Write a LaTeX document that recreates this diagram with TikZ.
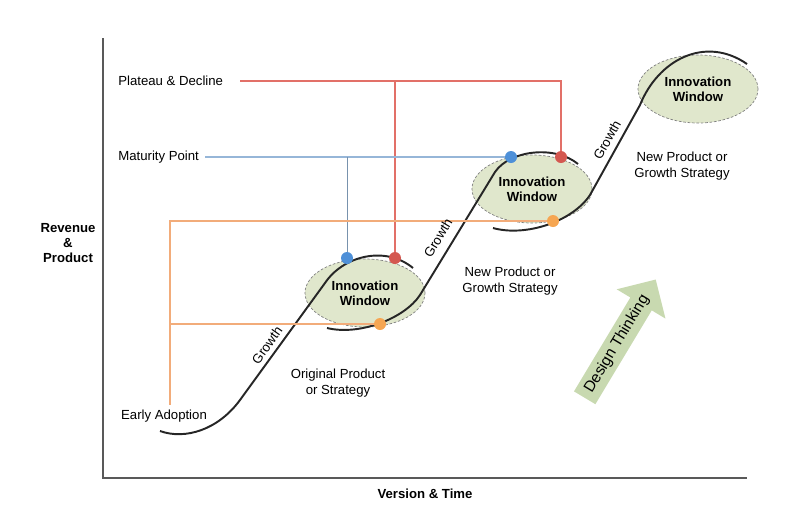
\documentclass[tikz,border=0pt]{standalone}
\usepackage{fontspec}
\setmainfont{Liberation Sans}
\usetikzlibrary{shapes.geometric,shapes.arrows}

\definecolor{windowGreen}{RGB}{224,231,204}
\definecolor{arrowGreen}{RGB}{200,217,176}
\definecolor{lineRed}{RGB}{226,112,104}
\definecolor{dotRed}{RGB}{212,88,80}
\definecolor{lineBlue}{RGB}{150,182,216}
\definecolor{dotBlue}{RGB}{78,144,216}
\definecolor{lineOrange}{RGB}{242,172,122}
\definecolor{dotOrange}{RGB}{246,166,82}

\begin{document}
\begin{tikzpicture}
[x=0.02cm,y=-0.02cm,
  axisDecorate/.style={draw=black!65,line width=0.9pt},
  curveDecorate/.style={draw=black!85,line width=1.1pt},
  windowDecorate/.style={shape=ellipse,draw=black!50,dash pattern=on 1.5pt off 1pt,
    fill=windowGreen,minimum width=2.4cm,minimum height=1.36cm,inner sep=0pt,
    align=center,font=\fontsize{7.5}{8.6}\selectfont\bfseries},
  dotDecorate/.style={shape=circle,inner sep=0pt,minimum size=0.24cm},
  labelDecorate/.style={inner sep=0pt,font=\fontsize{7.5}{9}\selectfont},
  captionDecorate/.style={align=center,font=\fontsize{7.5}{9.4}\selectfont},
  designArrow/.style={shape=single arrow,fill=arrowGreen,minimum height=2.76cm,
    single arrow head extend=0.32cm,inner sep=2.8pt,
    font=\fontsize{8.8}{10}\selectfont}]
\useasboundingbox (0,0) rectangle (798,512);

%% axes
\coordinate (top) at (103,38);
\coordinate (origin) at (103,478);
\coordinate (right) at (747,478);
\draw[axisDecorate] (top) -- (origin) -- (right);
\node[align=center,font=\fontsize{7.5}{8.8}\selectfont\bfseries] (revenue) at (68,243) {Revenue\\\&\\Product};
\node[font=\fontsize{7.5}{9}\selectfont\bfseries] (version) at (425,494) {Version \& Time};

%% innovation windows
\foreach \nodename/\x/\y in {winA/365/293, winB/532/189, winC/698/89}
{
  \node[windowDecorate] (\nodename) at (\x,\y) {Innovation\\Window};
}

%% s-curves
\draw[curveDecorate] (160,431) .. controls (185,440) and (218,430) .. (240,400)
  -- (325,283) .. controls (343,256) and (385,245) .. (413,268);
\draw[curveDecorate] (327,328) .. controls (360,336) and (405,318) .. (420,295)
  -- (495,172) .. controls (510,150) and (555,145) .. (578,164);
\draw[curveDecorate] (493,228) .. controls (525,237) and (572,222) .. (590,195)
  -- (640,105) .. controls (658,60) and (705,35) .. (747,64);

%% labels on the left
\node[labelDecorate,anchor=west] (plateau) at (118,81) {Plateau \& Decline};
\node[labelDecorate,anchor=west] (maturity) at (118,157) {Maturity Point};
\node[labelDecorate] (early) at (164,416) {Early Adoption};

%% points on the curves
\foreach \nodename/\x/\y in {
  blueA/347/258, redA/395/258, orangeA/380/324,
  blueB/511/157, redB/561/157, orangeB/553/221}
{
  \coordinate (\nodename) at (\x,\y);
}
\coordinate (adopt) at (170,405);

%% guide lines
\draw[lineRed,line width=0.6pt] ([xshift=0.34cm]plateau.east) -| (redB);
\draw[lineRed,line width=0.6pt] (plateau.east -| redA) -- (redA);
\draw[lineBlue,line width=0.6pt] ([xshift=0.12cm]maturity.east) -- (blueB);
\draw[lineBlue!80!black,line width=0.5pt] (maturity.east -| blueA) -- (blueA);
\draw[lineOrange,line width=0.6pt] (orangeB) -| (adopt);
\draw[lineOrange,line width=0.6pt] (adopt |- orangeA) -- (orangeA);

\foreach \nodename/\colour in {
  blueA/dotBlue, redA/dotRed, orangeA/dotOrange,
  blueB/dotBlue, redB/dotRed, orangeB/dotOrange}
{
  \node[dotDecorate,fill=\colour] (\nodename dot) at (\nodename) {};
}

%% growth labels
\foreach \nodename/\x/\y/\angle in {growthA/267/345/55, growthB/438/238/59, growthC/607/140/61}
{
  \node[labelDecorate,rotate=\angle] (\nodename) at (\x,\y) {Growth};
}

%% strategies
\node[captionDecorate] (original) at (338,383) {Original Product\\or Strategy};
\node[captionDecorate] (newB) at (510,281) {New Product or\\Growth Strategy};
\node[captionDecorate] (newC) at (682,166) {New Product or\\Growth Strategy};

%% design thinking
\node[designArrow,rotate=59] (design) at (617,344) {Design Thinking};
\end{tikzpicture}
\end{document}
